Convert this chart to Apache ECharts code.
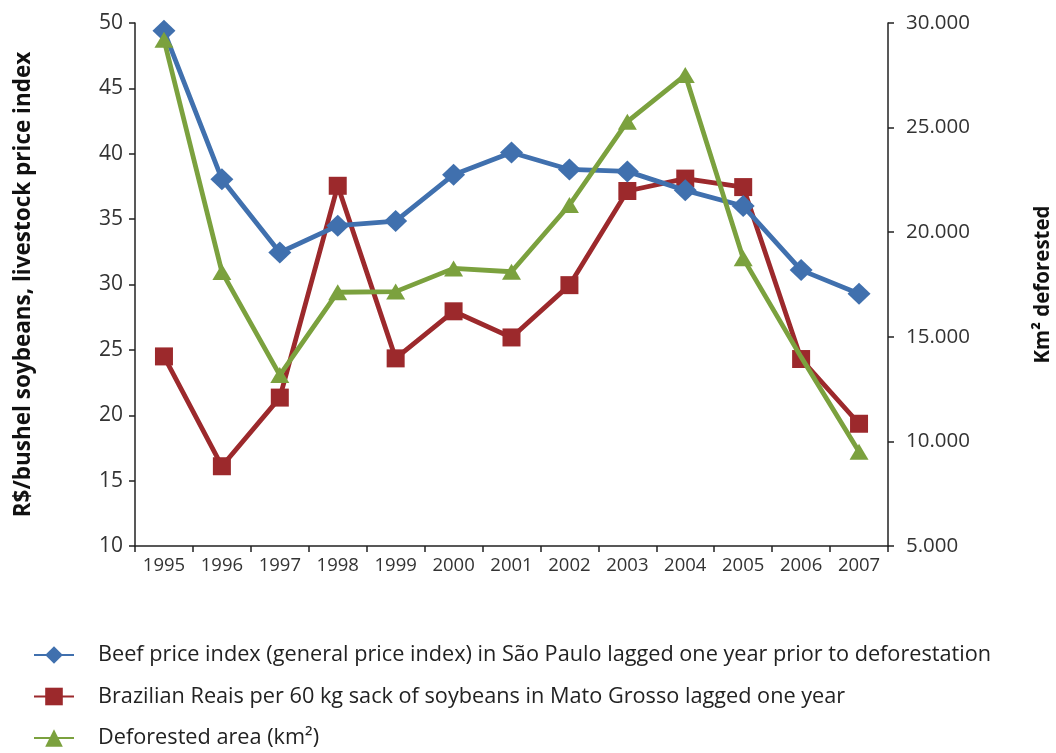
<!DOCTYPE html>
<html>
<head>
<meta charset="utf-8">
<script src="https://cdn.jsdelivr.net/npm/echarts@6/dist/echarts.min.js"></script>
<style>
  html, body { margin: 0; padding: 0; background: #fff; }
  #chart { width: 1056px; height: 753px; }
</style>
</head>
<body>
<div id="chart"></div>
<script>
// Years on the category axis
const years = ['1995','1996','1997','1998','1999','2000','2001','2002','2003','2004','2005','2006','2007'];

// Beef price index (general price index), São Paulo, lagged one year
const beefIndex = [49.4, 38.05, 32.45, 34.5, 34.85, 38.4, 40.1, 38.8, 38.65, 37.2, 36.0, 31.1, 29.3];

// R$ per 60 kg sack of soybeans, Mato Grosso, lagged one year
const soyPrice = [24.5, 16.1, 21.35, 37.55, 24.35, 27.95, 25.95, 29.95, 37.15, 38.1, 37.45, 24.3, 19.35];

// Deforested area, km²
const deforested = [29200, 18100, 13170, 17130, 17160, 18270, 18110, 21300, 25280, 27510, 18750, 14030, 9510];

const seriesNames = [
  'Beef price index (general price index) in São Paulo lagged one year prior to deforestation',
  'Brazilian Reais per 60 kg sack of soybeans in Mato Grosso lagged one year',
  'Deforested area (km²)'
];

const FONT = '"Open Sans", "Noto Sans", sans-serif';
const BLUE = '#4070AE', RED = '#9C292C', GREEN = '#7BA13E';

const chart = echarts.init(document.getElementById('chart'), null, { renderer: 'canvas' });

// 30000 -> "30.000"
const dotThousands = v => String(v).replace(/\B(?=(\d{3})+(?!\d))/g, '.');

chart.setOption({
  animation: false,
  textStyle: { fontFamily: FONT },
  grid: { left: 135, right: 168, top: 23, bottom: 207, containLabel: false, outerBoundsMode: 'none' },
  legend: {
    orient: 'vertical',
    left: 33,
    top: 644,
    padding: 0,
    itemGap: 19.5,
    itemWidth: 40,
    itemHeight: 22,
    textStyle: { fontFamily: FONT, fontSize: 21.7, color: '#222', padding: [0, 0, 0, 19] },
    data: seriesNames
  },
  xAxis: {
    type: 'category',
    data: years,
    boundaryGap: true,
    axisLine: { lineStyle: { color: '#222', width: 1.5 } },
    axisTick: { show: true, length: 6, lineStyle: { color: '#222', width: 1.5 } },
    axisLabel: { fontFamily: FONT, fontSize: 18.5, color: '#333', margin: 10 },
    splitLine: { show: false }
  },
  yAxis: [
    {
      type: 'value',
      min: 10, max: 50, interval: 5,
      position: 'left',
      name: 'R$/bushel soybeans, livestock price index',
      nameLocation: 'middle',
      nameRotate: 90,
      nameGap: 100,
      nameTextStyle: { fontFamily: FONT, fontSize: 22.5, fontWeight: 'bold', color: '#111' },
      axisLine: { show: true, lineStyle: { color: '#222', width: 1.5 } },
      axisTick: { show: true, length: 6, lineStyle: { color: '#222', width: 1.5 } },
      axisLabel: { fontFamily: FONT, fontSize: 21, color: '#333', margin: 12 },
      splitLine: { show: false }
    },
    {
      type: 'value',
      min: 5000, max: 30000, interval: 5000,
      position: 'right',
      name: 'Km² deforested',
      nameLocation: 'middle',
      nameRotate: 90,
      nameGap: 145,
      nameTextStyle: { fontFamily: FONT, fontSize: 20.5, fontWeight: 'bold', color: '#111' },
      axisLine: { show: true, lineStyle: { color: '#222', width: 1.5 } },
      axisTick: { show: true, length: 6, lineStyle: { color: '#222', width: 1.5 } },
      axisLabel: { fontFamily: FONT, fontSize: 20.5, color: '#333', margin: 18, formatter: dotThousands },
      splitLine: { show: false }
    }
  ],
  series: [
    {
      name: seriesNames[0],
      type: 'line',
      yAxisIndex: 0,
      data: beefIndex,
      symbol: 'diamond',
      symbolSize: [23, 22],
      lineStyle: { color: BLUE, width: 4.8 },
      itemStyle: { color: BLUE },
      z: 4
    },
    {
      name: seriesNames[1],
      type: 'line',
      yAxisIndex: 0,
      data: soyPrice,
      symbol: 'rect',
      symbolSize: 18,
      lineStyle: { color: RED, width: 4.8 },
      itemStyle: { color: RED },
      z: 3
    },
    {
      name: seriesNames[2],
      type: 'line',
      yAxisIndex: 1,
      data: deforested,
      symbol: 'triangle',
      // the 2006 point is drawn as a plain vertex of the line
      symbolSize: (v, p) => (p.dataIndex === 11 ? 0 : [19, 16]),
      lineStyle: { color: GREEN, width: 4.8 },
      itemStyle: { color: GREEN },
      z: 5
    }
  ]
});
</script>
</body>
</html>
